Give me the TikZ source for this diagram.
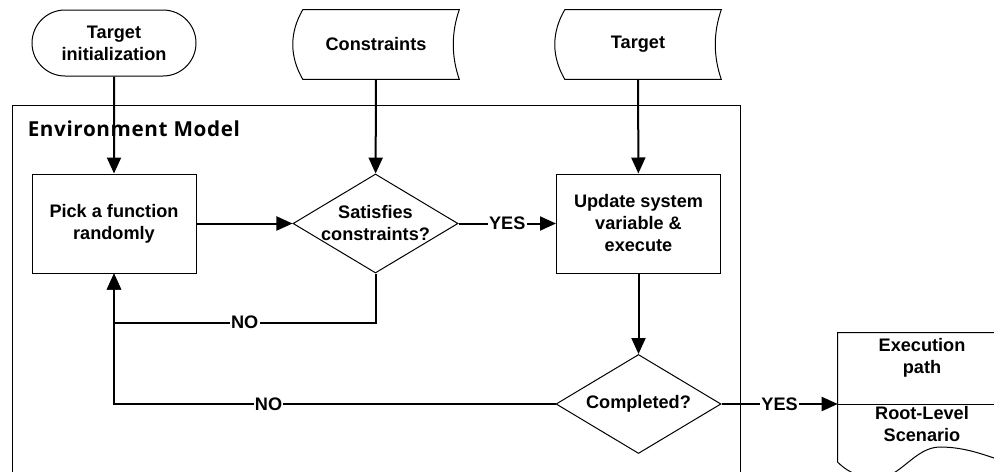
\documentclass[tikz,border=0pt]{standalone}
\usepackage{fontspec}
\setmainfont{Liberation Sans}
\newfontfamily\envfont[LetterSpace=3]{Open Sans}
\usepackage{tikz}
\usetikzlibrary{arrows.meta,calc,shapes.geometric,shapes.misc}
\tikzset{>={Triangle[length=12pt,width=10.5pt]}}
\newcommand{\chartfont}{\fontsize{13.6}{16.5}\selectfont\bfseries}

\begin{document}
\begin{tikzpicture}[x=0.75pt,y=-0.75pt,
    proc/.style={draw,line width=0.75pt,minimum width=123pt,minimum height=74.25pt,inner sep=0pt,align=center,font=\chartfont},
    decision/.style={draw,diamond,line width=0.75pt,minimum width=123.75pt,minimum height=74.25pt,inner sep=0pt},
    terminal/.style={draw,rounded rectangle,line width=0.75pt,minimum width=123pt,minimum height=49.5pt,inner sep=0pt,align=center,font=\chartfont},
    datanode/.style={minimum width=124.5pt,minimum height=51.75pt,inner sep=0pt,font=\chartfont},
    flow/.style={->,line width=1.5pt},
    lbl/.style={fill=white,inner sep=1pt,font=\chartfont}]
      \useasboundingbox (0,0) rectangle (994,471);
      % environment model frame
      \node (env) [draw,line width=1pt,anchor=north west,minimum width=546pt,minimum height=281.25pt,inner sep=0pt] at (12,105) {};
      \node (envlbl) [anchor=base west,inner sep=0pt,font=\envfont\fontsize{15.5}{18}\selectfont\bfseries] at (27.5,136.5) {Environment Model};
      % inputs
      \node (init) [terminal] at (114,43) {Target\\initialization};
      \node (cons) [datanode] at (376,44.5) {Constraints};
      \node (targ) [datanode] at (638,44.5) {Target};
      \foreach \n in {cons,targ}
        \draw [line width=0.75pt] ($(\n.north west)+(10,0)$) -- (\n.north east)
          .. controls +(-8,23) and +(-8,-23) .. (\n.south east) -- ($(\n.south west)+(10,0)$)
          .. controls +(-13.3,-23) and +(-13.3,23) .. ($(\n.north west)+(10,0)$);
      % steps and decisions
      \node (pick) [proc] at (114,223.5) {Pick a function\\randomly};
      \node (sat) [decision,label={[align=center,font=\chartfont]center:Satisfies\\constraints?}] at (375.5,223.5) {};
      \node (upd) [proc] at (638.5,223.5) {Update system\\variable \&\\execute};
      \node (comp) [decision,label={[font=\chartfont]center:Completed?}] at (638.5,404) {};
      % output document
      \node (doc) [minimum width=126pt,minimum height=106.5pt,inner sep=0pt] at (922,404) {};
      \draw [line width=0.75pt] ($(doc.south west)+(0,-13)$) -- (doc.north west) -- (doc.north east) -- ($(doc.south east)+(0,-13)$)
        .. controls (985,455) and (965,447) .. (940,447)
        .. controls (915,447) and (900,478) .. (878,478)
        .. controls (862,478) and (850,474) .. ($(doc.south west)+(0,-13)$);
      \draw [line width=0.75pt] (doc.west) -- (doc.east);
      \node (exec) [align=center,font=\chartfont] at (922,357.5) {Execution\\path};
      \node (root) [align=center,font=\chartfont] at (922,424) {Root-Level\\Scenario};
      % connectors
      \draw [flow] (init) -- (pick);
      \draw [flow] (cons) -- (sat);
      \draw [flow] (targ) -- (upd);
      \draw [flow] (pick) -- (sat);
      \draw [flow] (sat) -- node[lbl]{YES} (upd);
      \draw [flow] (upd) -- (comp);
      \draw [flow] (sat.south) -- ++(0,49) -| node[pos=0.25,lbl]{NO} (pick.south);
      \draw [flow] (comp.west) -| node[pos=0.325,lbl]{NO} (pick.south);
      \draw [flow] (comp.east) -- node[lbl]{YES} (doc.west);
\end{tikzpicture}
\end{document}
